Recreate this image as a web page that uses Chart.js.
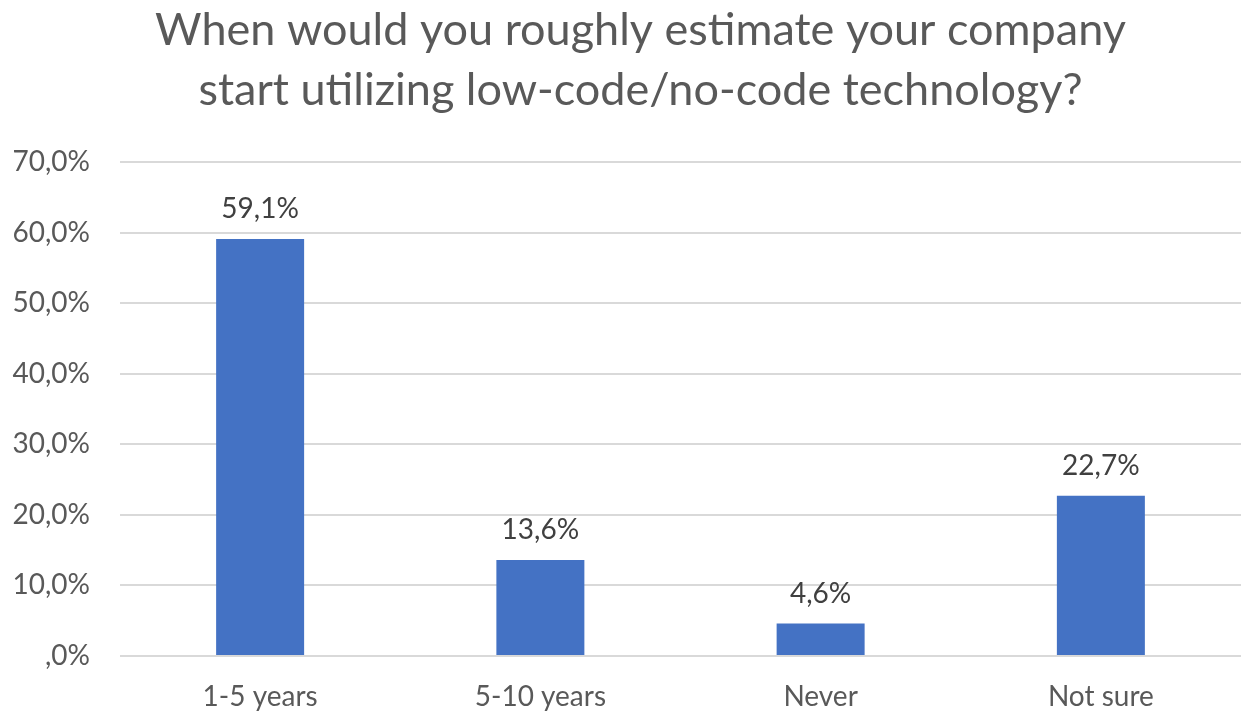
<!DOCTYPE html>
<html>
<head>
<meta charset="utf-8">
<script src="https://cdn.jsdelivr.net/npm/chart.js@4/dist/chart.umd.min.js"></script>
<style>
  html, body { margin: 0; padding: 0; background: #fff; }
  #wrap { width: 1241px; height: 715px; }
</style>
</head>
<body>
<div id="wrap"><canvas id="chart" width="1241" height="715"></canvas></div>
<script>
// data
const categories = ['1-5 years', '5-10 years', 'Never', 'Not sure'];
const shares = [59.1, 13.6, 4.6, 22.7];
const titleLines = ['When would you roughly estimate your company', 'start utilizing low-code/no-code technology?'];

const FONT = 'Lato, "Open Sans", sans-serif';

// comma as decimal mark, zero shown as ",0%"
function pct(v, digits) {
    let s = v.toFixed(digits).replace('.', ',');
    if (s.startsWith('0,')) s = s.slice(1);
    return s + '%';
}

// value labels above bars
const barLabels = {
    id: 'barLabels',
    afterDatasetsDraw(chart) {
        const ctx = chart.ctx;
        const meta = chart.getDatasetMeta(0);
        ctx.save();
        ctx.font = '28px ' + FONT;
        ctx.fillStyle = '#404040';
        ctx.textAlign = 'center';
        ctx.textBaseline = 'middle';
        meta.data.forEach((bar, i) => {
            ctx.fillText(pct(shares[i], 1), bar.x, bar.y - 30);
        });
        ctx.restore();
    }
};

// the built-in title only reserves the space; this draws it a bit right of centre
const shiftedTitle = {
    id: 'shiftedTitle',
    afterDraw(chart) {
        const ctx = chart.ctx;
        const box = chart.titleBlock;
        const cx = (box.left + box.right) / 2 + 20;
        ctx.save();
        ctx.font = '45px ' + FONT;
        ctx.fillStyle = '#595959';
        ctx.textAlign = 'center';
        ctx.textBaseline = 'middle';
        titleLines.forEach((line, i) => {
            ctx.fillText(line, cx, box.top + 30 + i * 60);
        });
        ctx.restore();
    }
};

new Chart(document.getElementById('chart'), {
    type: 'bar',
    data: {
        labels: categories,
        datasets: [{
            data: shares,
            backgroundColor: '#4472c4',
            categoryPercentage: 1,
            barPercentage: 0.314
        }]
    },
    options: {
        responsive: false,
        animation: false,
        layout: { padding: 0 },
        plugins: {
            legend: { display: false },
            tooltip: { enabled: false },
            title: {
                display: true,
                text: titleLines,
                color: 'rgba(0,0,0,0)',
                font: { family: FONT, size: 45, weight: 'normal', lineHeight: 1.333 },
                padding: { top: 0, bottom: 42 }
            }
        },
        scales: {
            x: {
                grid: { display: false, drawTicks: false },
                border: { display: false },
                ticks: {
                    color: '#595959',
                    font: { family: FONT, size: 28 },
                    padding: 24,
                    maxRotation: 0
                },
                afterFit(scale) { scale.height = 59; }
            },
            y: {
                min: 0,
                max: 70,
                ticks: {
                    stepSize: 10,
                    color: '#595959',
                    font: { family: FONT, size: 28 },
                    padding: 30,
                    callback: (v) => pct(v, 1)
                },
                grid: { color: '#d9d9d9', lineWidth: 2, drawTicks: false },
                border: { display: false },
                afterFit(scale) { scale.width = 120; }
            }
        }
    },
    plugins: [barLabels, shiftedTitle]
});
</script>
</body>
</html>
